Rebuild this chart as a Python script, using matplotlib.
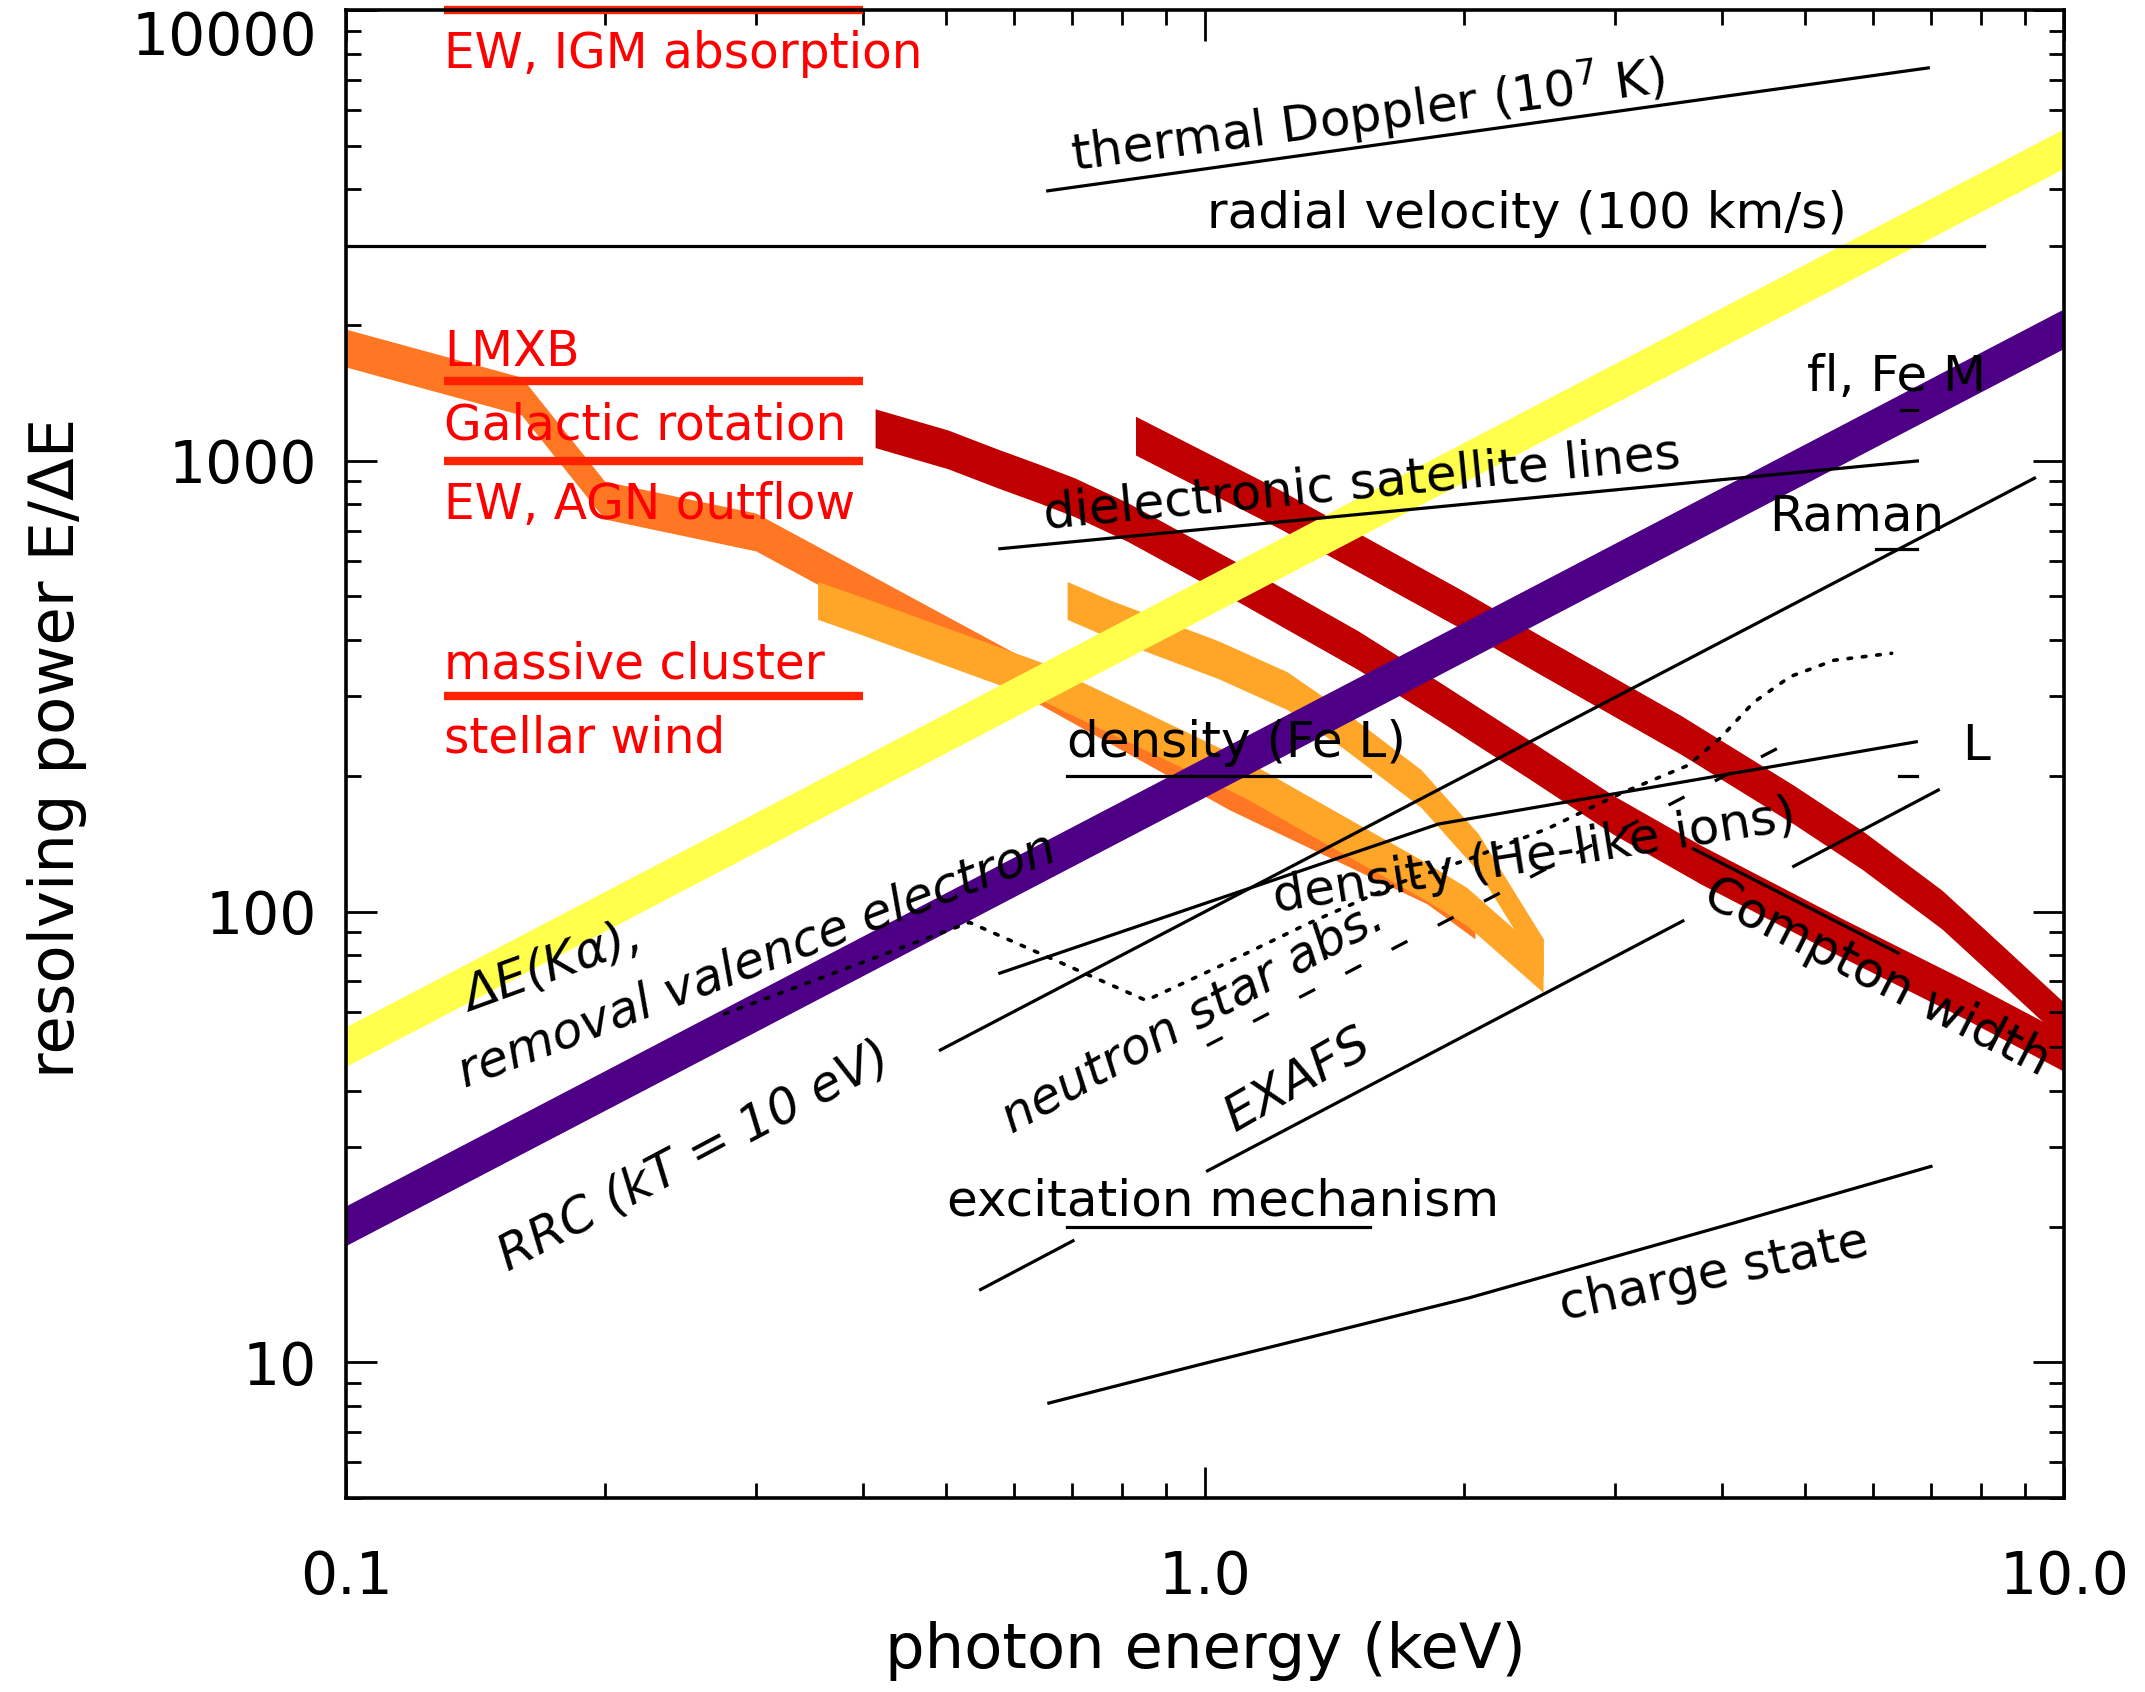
import numpy as np
import matplotlib
matplotlib.use("Agg")
import matplotlib.pyplot as plt
from matplotlib.ticker import LogLocator, NullFormatter

plt.rcParams['font.family'] = ['DejaVu Sans']

# ---- values: photon energy (keV) vs E/dE ----
# broad bands (centre line of each band)
kalpha_x = [0.1, 10.0]
kalpha_y = [50.2, 4930.0]

valence_x = [0.1, 10.0]
valence_y = [20.1, 1965.0]

lmxb_x = [0.1, 0.16, 0.2, 0.3, 0.639, 1.069, 1.813, 2.062]
lmxb_y = [1778, 1392, 818, 695, 319, 185, 114.6, 95.8]

dens1_x = [0.354, 0.397, 0.643, 1.107, 1.808, 2.018, 2.475]
dens1_y = [490, 454, 325, 198, 116.6, 102.6, 72.9]

densfe_x = [0.691, 0.777, 1.036, 1.246, 1.453, 1.784, 2.081, 2.477]
densfe_y = [490, 445, 362, 309, 252.5, 187.5, 135, 78.9]

compton_x = [0.413, 0.502, 0.574, 0.642, 0.705, 0.813, 1.107, 1.507, 1.877,
             2.389, 2.985, 3.78, 5.515, 7.61, 10.0]
compton_y = [1181, 1060, 961, 889, 830, 731, 530, 380, 292,
             217, 164, 127, 87.4, 64.3, 48.8]

femband_x = [0.83, 1.226, 1.981, 2.455, 3.582, 4.851, 5.82, 7.21, 8.47, 10.0]
femband_y = [1137, 778, 470, 371, 246.5, 172.4, 137, 101, 76.2, 56.9]

# red reference levels on the left
ref_x = [0.13, 0.40]
ref_levels = [10000, 1500, 1000, 300]
ref_labels = ["EW, IGM absorption", "LMXB", "Galactic rotation",
              "EW, AGN outflow", "massive cluster", "stellar wind"]
ref_label_y = [7430, 1622, 1116, 743, 329, 225]

# thin black curves
doppler_x = [0.656, 6.95]
doppler_y = [3970, 7440]
radial_x = [0.1, 8.07]
radial_y = [2995, 2995]
dielec_x = [0.577, 6.75]
dielec_y = [638, 999]
rrc_x = [0.492, 9.24]
rrc_y = [49.3, 915]
exafs1_x = [0.548, 0.702]
exafs1_y = [14.5, 18.6]
exafs2_x = [1.007, 3.6]
exafs2_y = [26.6, 95.3]
fluor_x = [4.845, 7.14]
fluor_y = [126, 186]
cbar_x = [3.70, 6.41]
cbar_y = [137.9, 80.9]
hel_x = [0.577, 1.868, 6.73]
hel_y = [73, 156.3, 238]
charge_x = [0.658, 1.0, 2.03, 4.1, 7.0]
charge_y = [8.12, 9.95, 13.9, 20.3, 27.2]
nsabs_x = [1.005, 4.87]
nsabs_y = [50.4, 241.5]
dotted_x = [0.276, 0.532, 0.854, 1.041, 1.316, 1.702, 2.03, 2.51, 3.06,
            3.65, 3.98, 4.35, 4.80, 5.40, 6.30]
dotted_y = [59.3, 94.6, 63.5, 75.7, 93.9, 116.6, 130.8, 153, 183.5,
            211, 242.6, 290.9, 332, 361, 374]
under_x = [0.69, 1.555]
fel_level = 200
excit_level = 20
tick_marks = [([6.46, 6.75], 1295), ([6.04, 6.75], 638), ([6.43, 6.75], 200)]

# ---- figure ----
W, H = 2145, 1692
fig = plt.figure(figsize=(W / 100, H / 100), dpi=100)
ax = fig.add_axes([346 / W, 1 - 1498 / H, 1718 / W, 1488 / H])
ax.set_xscale('log')
ax.set_yscale('log')
ax.set_xlim(0.1, 10)
ax.set_ylim(5, 10000)


def band(x, y, color, half=0.043, z=1):
    y = np.asarray(y, float)
    f = 10 ** half
    ax.fill_between(x, y / f, y * f, color=color, lw=0, zorder=z)


band(compton_x, compton_y, '#c00000', z=1)
band(femband_x, femband_y, '#c00000', z=1)
band(lmxb_x, lmxb_y, '#ff7722', half=0.042, z=2)
band(dens1_x, dens1_y, '#ffa528', half=0.042, z=3)
band(densfe_x, densfe_y, '#ffa528', half=0.042, z=3)
band(kalpha_x, kalpha_y, '#ffff4c', half=0.044, z=4)
band(valence_x, valence_y, '#4d0085', half=0.044, z=5)

for lev in ref_levels:
    ax.plot(ref_x, [lev, lev], color='#ff2200', lw=6, solid_capstyle='butt',
            zorder=6, clip_on=False)
for t, yy in zip(ref_labels, ref_label_y):
    ax.text(ref_x[0], yy, t, color='#ff0000', fontsize=35, ha='left',
            va='baseline', zorder=7)

lk = dict(color='black', lw=2.3, zorder=8)
for xs, ys in [(doppler_x, doppler_y), (radial_x, radial_y),
               (dielec_x, dielec_y), (rrc_x, rrc_y),
               (exafs1_x, exafs1_y), (exafs2_x, exafs2_y),
               (fluor_x, fluor_y), (cbar_x, cbar_y), (hel_x, hel_y),
               (charge_x, charge_y)]:
    ax.plot(xs, ys, **lk)
ax.plot(under_x, [fel_level] * 2, **lk)
ax.plot(under_x, [excit_level] * 2, **lk)
for xs, lev in tick_marks:
    ax.plot(xs, [lev, lev], **lk)
ax.plot(nsabs_x, nsabs_y, color='black', lw=2.3, ls=(0, (5.6, 10.7)), zorder=8)
ax.plot(dotted_x, dotted_y, color='black', lw=2.6, ls=(0, (1, 3)),
        dash_capstyle='round', zorder=8)

# ---- labels ----
def label(x, y, s, rot=0, size=36, **kw):
    ax.text(x, y, s, rotation=rot, rotation_mode='anchor', ha='left',
            va='baseline', fontsize=size, zorder=9, **kw)


label(0.702, 4380, "thermal Doppler (10$^7$ K)", 7.5)
label(1.005, 3290, "radial velocity (100 km/s)")
label(0.652, 707, "dielectronic satellite lines", 5.5)
label(5.02, 1428, "fl, Fe M")
label(4.54, 699, "Raman")
label(7.62, 217, "L")
label(0.691, 220, "density (Fe L)")
label(0.501, 21.2, "excitation mechanism")
label(0.1394, 59.9, "ΔE(Kα),", 20, style='italic')
label(0.1375, 40.7, "removal valence electron", 21, style='italic')
label(0.1544, 15.9, "RRC (kT = 10 eV)", 28, style='italic')
label(0.595, 32.1, "neutron star abs.", 29, style='italic')
label(1.085, 32.4, "EXAFS", 30, style='italic')
label(1.208, 99.7, "density (He-like ions)", 9)
label(3.77, 104.5, "Compton width", -27)
label(2.608, 12.4, "charge state", 12)

# ---- axes styling ----
ax.set_xticks([0.1, 1, 10])
ax.set_xticklabels(['0.1', '1.0', '10.0'])
ax.set_yticks([10, 100, 1000, 10000])
ax.set_yticklabels(['10', '100', '1000', '10000'])
ax.xaxis.set_minor_locator(LogLocator(subs=np.arange(2, 10)))
ax.yaxis.set_minor_locator(LogLocator(subs=np.arange(2, 10)))
ax.xaxis.set_minor_formatter(NullFormatter())
ax.yaxis.set_minor_formatter(NullFormatter())
ax.tick_params(which='both', direction='in', top=True, right=True, width=2)
ax.tick_params(which='major', length=22, labelsize=42)
ax.tick_params(which='minor', length=11)
ax.tick_params(axis='x', which='major', pad=37)
ax.tick_params(axis='y', which='major', pad=21)
# keep the top label inside the figure, as in the original
ax.yaxis.get_major_ticks()[-1].label1.set_verticalalignment('top')
for sp in ax.spines.values():
    sp.set_linewidth(2.6)
    sp.set_zorder(10)

fig.text(1205 / W, 1 - 1651 / H, "photon energy (keV)", fontsize=45,
         ha='center', va='center')
fig.text(57 / W, 1 - 748 / H, "resolving power E/ΔE", fontsize=45,
         rotation=90, ha='center', va='center')

fig.savefig('out.png', dpi=100)
